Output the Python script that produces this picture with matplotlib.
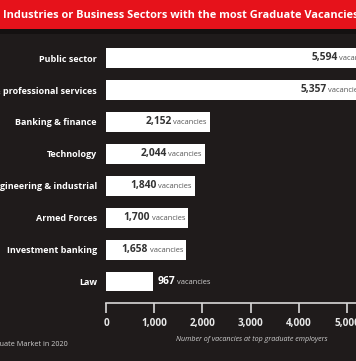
import matplotlib
matplotlib.use("Agg")
import matplotlib.pyplot as plt
from matplotlib.patches import Rectangle

sectors = ["Public sector", "Accounting & professional services", "Banking & finance",
           "Technology", "Engineering & industrial", "Armed Forces",
           "Investment banking", "Law"]
vacancies = [5594, 5357, 2152, 2044, 1840, 1700, 1658, 967]
xticks = [0, 1000, 2000, 3000, 4000, 5000]

bg = "#1f1b1b"
red = "#e6121b"
font = "Open Sans"

W, H = 356, 361
fig = plt.figure(figsize=(W / 100, H / 100), dpi=100, facecolor=bg)

# red title band
fig.patches.append(Rectangle((0, (H - 29) / H), 1, 29 / H, transform=fig.transFigure,
                             facecolor=red, edgecolor="none", zorder=0))
fig.patches.append(Rectangle((0, (H - 34) / H), 1, 5 / H, transform=fig.transFigure,
                             facecolor="#141111", edgecolor="none", zorder=0))
fig.text(3 / W, 1 - 15 / H, "Industries or Business Sectors with the most Graduate Vacancies",
         color="white", fontsize=7.9, fontweight="bold", family=font,
         ha="left", va="center")

ax = fig.add_axes([106 / W, (H - 303) / H, 1 - 106 / W, (303 - 35) / H])
ax.set_facecolor(bg)
ypos = list(range(len(sectors)))
ax.barh(ypos, vacancies, height=0.6, color="white", edgecolor="none")
ax.set_xlim(0, (W - 106) / 48.2 * 1000)
ax.set_ylim(7.66, -0.72)

for s in ["top", "right", "left"]:
    ax.spines[s].set_visible(False)
ax.spines["bottom"].set_color("#d8d8d8")
ax.spines["bottom"].set_linewidth(1.2)
ax.set_xticks(xticks)
ax.set_xticklabels([f"{v:,}" for v in xticks], color="#e8e8e8", fontsize=7.2,
                   fontweight="bold", family=font)
ax.tick_params(axis="x", direction="out", length=7, width=1.2, color="#d8d8d8", pad=3.5)
ax.set_yticks(ypos)
ax.set_yticklabels(sectors, color="white", fontsize=6.5, fontweight="bold", family=font)
ax.tick_params(axis="y", length=0, pad=6.5)
ax.set_xlabel("Number of vacancies at top graduate employers", color="#cfcfcf",
              fontsize=5.1, style="italic", family=font)
ax.xaxis.set_label_coords(0.585, -0.122)

fig.canvas.draw()
renderer = fig.canvas.get_renderer()
for y, v in zip(ypos, vacancies):
    if v > 1200:
        t = ax.annotate("vacancies", (v, y), xytext=(-2, -0.3), textcoords="offset points",
                        ha="right", va="center", color="#555555", fontsize=5.4, family=font,
                        annotation_clip=False)
        bb = t.get_window_extent(renderer)
        ax.annotate(f"{v:,}", (bb.x0 - 1.5, bb.y0 + bb.height / 2 + 0.5), xycoords="figure pixels",
                    ha="right", va="center", color="#333333", fontsize=7.4,
                    fontweight="bold", family=font, annotation_clip=False)
    else:
        t = ax.annotate(f"{v:,}", (v, y), xytext=(3.6, 0), textcoords="offset points",
                        ha="left", va="center", color="white", fontsize=7.4,
                        fontweight="bold", family=font)
        bb = t.get_window_extent(renderer)
        ax.annotate("vacancies", (bb.x1 + 1.5, bb.y0 + bb.height / 2 - 0.5), xycoords="figure pixels",
                    ha="left", va="center", color="#d0d0d0", fontsize=5.4, family=font)

fig.text(68 / W, 1 - 345 / H, "Source: The Graduate Market in 2020", color="#cfcfcf",
         fontsize=5.2, family=font, ha="right", va="center")

fig.savefig("out.png", dpi=100, facecolor=bg)
